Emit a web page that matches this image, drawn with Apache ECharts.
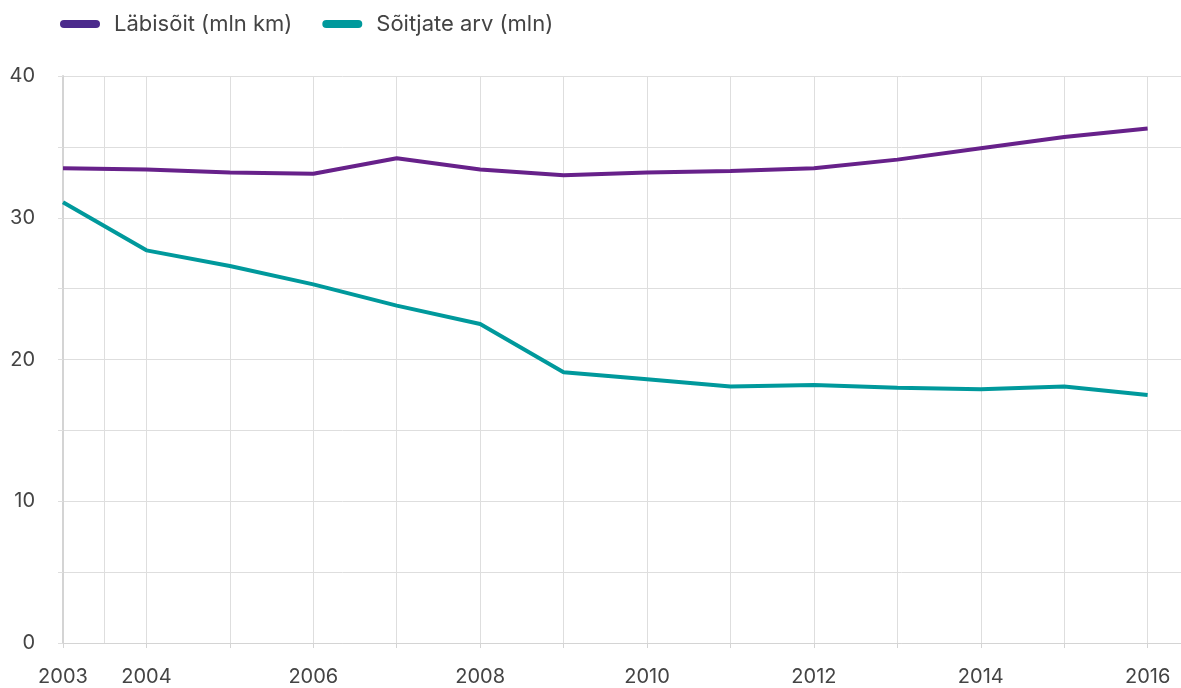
<!DOCTYPE html>
<html>
<head>
<meta charset="utf-8">
<script src="https://cdn.jsdelivr.net/npm/echarts@6/dist/echarts.min.js"></script>
<style>
  html, body { margin: 0; padding: 0; background: #fff; }
  #chart { width: 1181px; height: 688px; }
</style>
</head>
<body>
<div id="chart"></div>
<script>
// years on the x axis
const years = [2003, 2004, 2005, 2006, 2007, 2008, 2009, 2010, 2011, 2012, 2013, 2014, 2015, 2016];
// labelled years
const yearLabels = [2003, 2004, 2006, 2008, 2010, 2012, 2014, 2016];
const mileage = [33.5, 33.4, 33.2, 33.1, 34.2, 33.4, 33.0, 33.2, 33.3, 33.5, 34.1, 34.9, 35.7, 36.3];
const passengers = [31.1, 27.7, 26.6, 25.3, 23.8, 22.5, 19.1, 18.6, 18.1, 18.2, 18.0, 17.9, 18.1, 17.5];
const yLabels = [0, 10, 20, 30, 40];

const font = 'Inter, "Noto Sans", sans-serif';
const gridColor = '#dedede';
const pill = 'path://M4,0 H36 A4,4 0 0 1 36,8 H4 A4,4 0 0 1 4,0 Z';

let myChart = echarts.init(document.getElementById('chart'));
let option = {
  animation: false,
  textStyle: { fontFamily: font },
  legend: {
    left: 55,
    top: 8,
    itemWidth: 40,
    itemHeight: 8,
    itemGap: 30,
    textStyle: { fontSize: 22, color: '#444', fontFamily: font, padding: [0, 0, 0, 9] },
    data: [
      { name: 'Läbisõit (mln km)', icon: pill, itemStyle: { color: '#4b2a8c' } },
      { name: 'Sõitjate arv (mln)', icon: pill, itemStyle: { color: '#00999c' } }
    ]
  },
  grid: { left: 63, right: 0, top: 76, bottom: 45, containLabel: false },
  xAxis: {
    type: 'value',
    min: 2003,
    max: 2016.4,
    interval: 1,
    axisLine: { show: true, lineStyle: { color: '#d4d4d4', width: 1 } },
    axisTick: {
      show: true,
      length: 5,
      lineStyle: { color: '#d4d4d4' },
      interval: function (i, v) { return yearLabels.indexOf(v) >= 0; }
    },
    splitLine: { show: true, lineStyle: { color: gridColor, width: 1 } },
    axisLabel: {
      fontSize: 20,
      color: '#444',
      margin: 24,
      showMaxLabel: false,
      formatter: function (v) { return yearLabels.indexOf(v) >= 0 ? String(v) : ''; }
    }
  },
  yAxis: {
    type: 'value',
    min: 0,
    max: 40,
    interval: 5,
    axisLine: { show: true, lineStyle: { color: '#d4d4d4', width: 2 } },
    axisTick: { show: true, length: 5, lineStyle: { color: gridColor } },
    splitLine: { show: true, lineStyle: { color: gridColor, width: 1 } },
    axisLabel: {
      fontSize: 20,
      color: '#444',
      margin: 28,
      formatter: function (v) { return yLabels.indexOf(v) >= 0 ? String(v) : ''; }
    }
  },
  series: [
    {
      name: 'Läbisõit (mln km)',
      type: 'line',
      data: years.map((y, i) => [y, mileage[i]]),
      showSymbol: false,
      color: '#67218a',
      lineStyle: { width: 4, color: '#67218a' },
      z: 3,
      markLine: {
        silent: true,
        symbol: 'none',
        label: { show: false },
        lineStyle: { color: gridColor, width: 1, type: 'solid' },
        data: [{ xAxis: 2003.5 }],
        z: 1
      }
    },
    {
      name: 'Sõitjate arv (mln)',
      type: 'line',
      data: years.map((y, i) => [y, passengers[i]]),
      showSymbol: false,
      color: '#00999c',
      lineStyle: { width: 4, color: '#00999c' },
      z: 3
    }
  ]
};
myChart.setOption(option);
</script>
</body>
</html>
